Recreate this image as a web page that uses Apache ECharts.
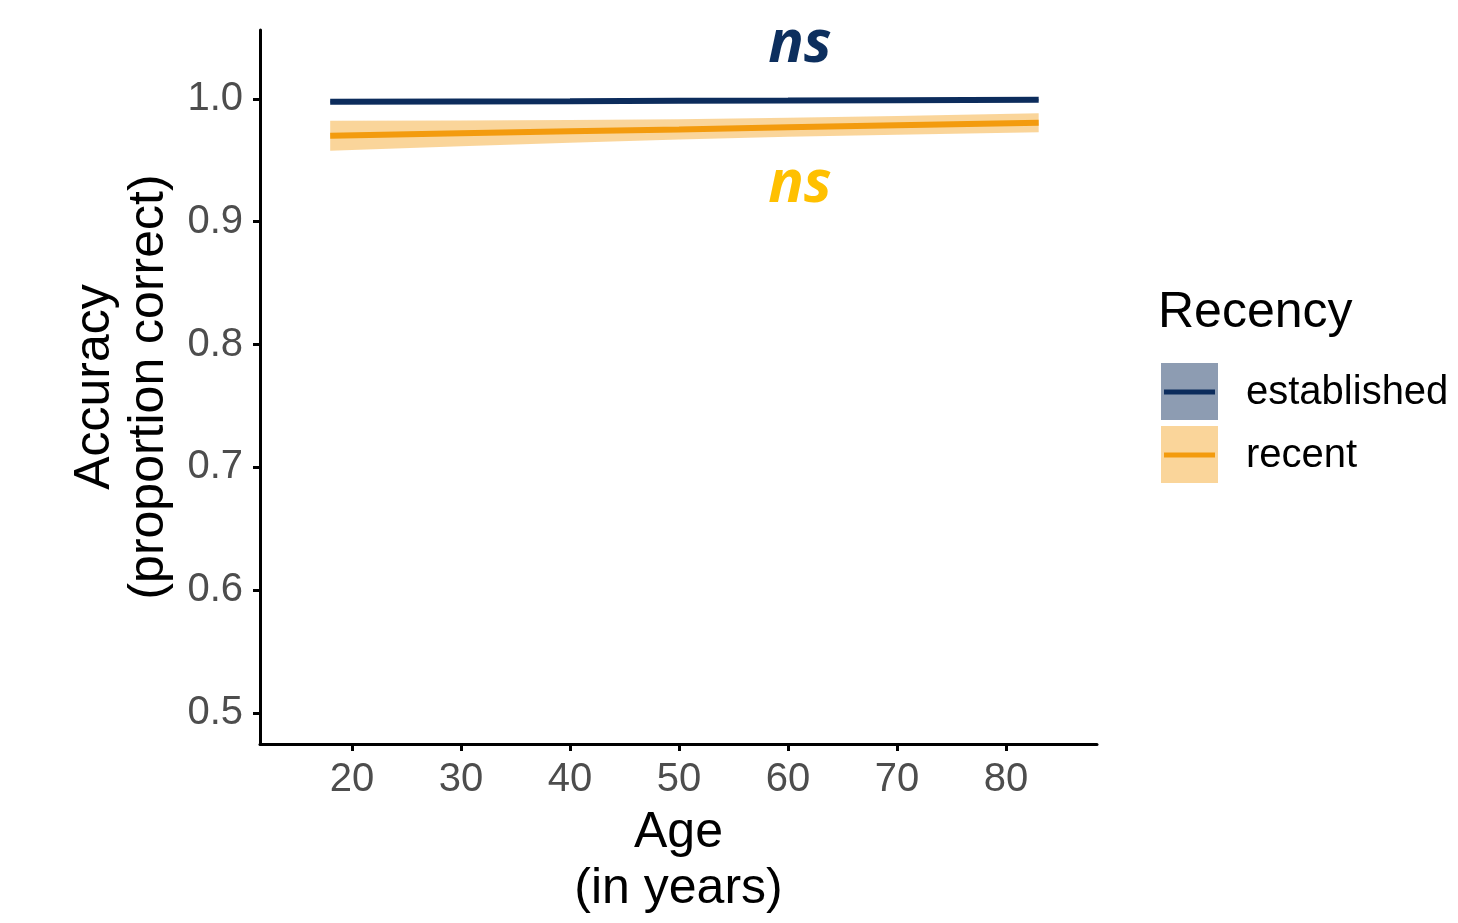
<!DOCTYPE html>
<html>
<head>
<meta charset="utf-8">
<script src="https://cdn.jsdelivr.net/npm/echarts@6/dist/echarts.min.js"></script>
<style>
  html, body { margin: 0; padding: 0; background: #fff; }
  #main { width: 1458px; height: 923px; }
</style>
</head>
<body>
<div id="main"></div>
<script>
// values
var ages = [18, 30, 40, 50, 60, 70, 83];
var establishedFit = [0.9976, 0.9979, 0.9981, 0.9984, 0.9986, 0.9989, 0.9992];
var establishedLo = [0.9968, 0.9972, 0.9975, 0.9978, 0.9981, 0.9983, 0.9985];
var establishedHi = [0.9984, 0.9986, 0.9987, 0.9990, 0.9991, 0.9995, 0.9999];
var recentFit = [0.9699, 0.9719, 0.9735, 0.9751, 0.9768, 0.9784, 0.9805];
var recentLo = [0.9577, 0.9614, 0.9643, 0.9668, 0.9691, 0.9708, 0.9727];
var recentHi = [0.9821, 0.9824, 0.9827, 0.9834, 0.9845, 0.9860, 0.9883];
var xTicks = [20, 30, 40, 50, 60, 70, 80];
var yTicks = [0.5, 0.6, 0.7, 0.8, 0.9, 1.0];
var groups = ['established', 'recent'];

var navy = '#0c2c5c';
var orange = '#f39b0e';
var fontFamily = '"Liberation Sans", Arial, sans-serif';

function pairs(xs, ys) {
    var out = [];
    for (var i = 0; i < xs.length; i++) out.push([xs[i], ys[i]]);
    return out;
}

function bandData(xs, lo, hi) {
    var out = [];
    for (var i = 0; i < xs.length; i++) out.push([xs[i], lo[i], hi[i]]);
    return out;
}

function ribbon(name, data, color, opacity) {
    return {
        name: name,
        type: 'custom',
        data: data,
        silent: true,
        z: 1,
        renderItem: function (params, api) {
            if (params.dataIndex !== 0) return;
            var top = [], bottom = [];
            for (var i = 0; i < data.length; i++) {
                top.push(api.coord([data[i][0], data[i][2]]));
                bottom.unshift(api.coord([data[i][0], data[i][1]]));
            }
            return {
                type: 'polygon',
                shape: { points: top.concat(bottom) },
                style: { fill: color, opacity: opacity }
            };
        }
    };
}

function fitLine(name, data, color) {
    return {
        name: name,
        type: 'line',
        data: data,
        showSymbol: false,
        symbol: 'none',
        z: 3,
        lineStyle: { color: color, width: 6, cap: 'butt' }
    };
}

var chart = echarts.init(document.getElementById('main'), null, { renderer: 'canvas' });

var option = {
    backgroundColor: '#fff',
    animation: false,
    grid: { left: 260, right: 361, top: 30, bottom: 179 },
    xAxis: {
        type: 'value',
        min: 11.56,
        max: 88.35,
        name: 'Age\n(in years)',
        nameLocation: 'middle',
        nameGap: 57,
        nameTextStyle: { fontFamily: fontFamily, fontSize: 50, lineHeight: 56, color: '#000' },
        axisLine: { onZero: false, lineStyle: { color: '#000', width: 3 } },
        axisTick: { customValues: xTicks, length: 7, lineStyle: { color: '#000', width: 3 } },
        axisLabel: { customValues: xTicks, margin: 16, fontFamily: fontFamily, fontSize: 40, color: '#4d4d4d' },
        splitLine: { show: false }
    },
    yAxis: {
        type: 'value',
        min: 0.4748,
        max: 1.056,
        name: 'Accuracy\n(proportion correct)',
        nameLocation: 'middle',
        nameGap: 82,
        nameTextStyle: { fontFamily: fontFamily, fontSize: 50, lineHeight: 54, color: '#000' },
        axisLine: { onZero: false, lineStyle: { color: '#000', width: 3 } },
        axisTick: { customValues: yTicks, length: 7, lineStyle: { color: '#000', width: 3 } },
        axisLabel: {
            customValues: yTicks, margin: 17, fontFamily: fontFamily, fontSize: 40, color: '#4d4d4d',
            formatter: function (v) { return v.toFixed(1); }
        },
        splitLine: { show: false }
    },
    series: [
        ribbon('established band', bandData(ages, establishedLo, establishedHi), navy, 0.47),
        ribbon('recent band', bandData(ages, recentLo, recentHi), orange, 0.42),
        fitLine(groups[0], pairs(ages, establishedFit), navy),
        fitLine(groups[1], pairs(ages, recentFit), orange)
    ],
    graphic: [
        // significance labels
        { type: 'text', x: 800, y: 45, style: { text: 'ns', fill: '#0d2f5e', font: 'italic bold 59px "Open Sans", sans-serif', align: 'center', verticalAlign: 'middle' } },
        { type: 'text', x: 800, y: 185, style: { text: 'ns', fill: '#ffc000', font: 'italic bold 59px "Open Sans", sans-serif', align: 'center', verticalAlign: 'middle' } },
        // legend
        { type: 'text', x: 1158, y: 313, style: { text: 'Recency', fill: '#000', font: '50px ' + fontFamily, verticalAlign: 'middle' } },
        { type: 'rect', shape: { x: 1161, y: 363, width: 57, height: 57 }, style: { fill: navy, opacity: 0.47 } },
        { type: 'line', shape: { x1: 1164, y1: 392, x2: 1215, y2: 392 }, style: { stroke: navy, lineWidth: 5 } },
        { type: 'rect', shape: { x: 1161, y: 426, width: 57, height: 57 }, style: { fill: orange, opacity: 0.42 } },
        { type: 'line', shape: { x1: 1164, y1: 455, x2: 1215, y2: 455 }, style: { stroke: orange, lineWidth: 5 } },
        { type: 'text', x: 1246, y: 393, style: { text: groups[0], fill: '#000', font: '40px ' + fontFamily, verticalAlign: 'middle' } },
        { type: 'text', x: 1246, y: 456, style: { text: groups[1], fill: '#000', font: '40px ' + fontFamily, verticalAlign: 'middle' } }
    ]
};

chart.setOption(option);
window.addEventListener('resize', chart.resize);
</script>
</body>
</html>
